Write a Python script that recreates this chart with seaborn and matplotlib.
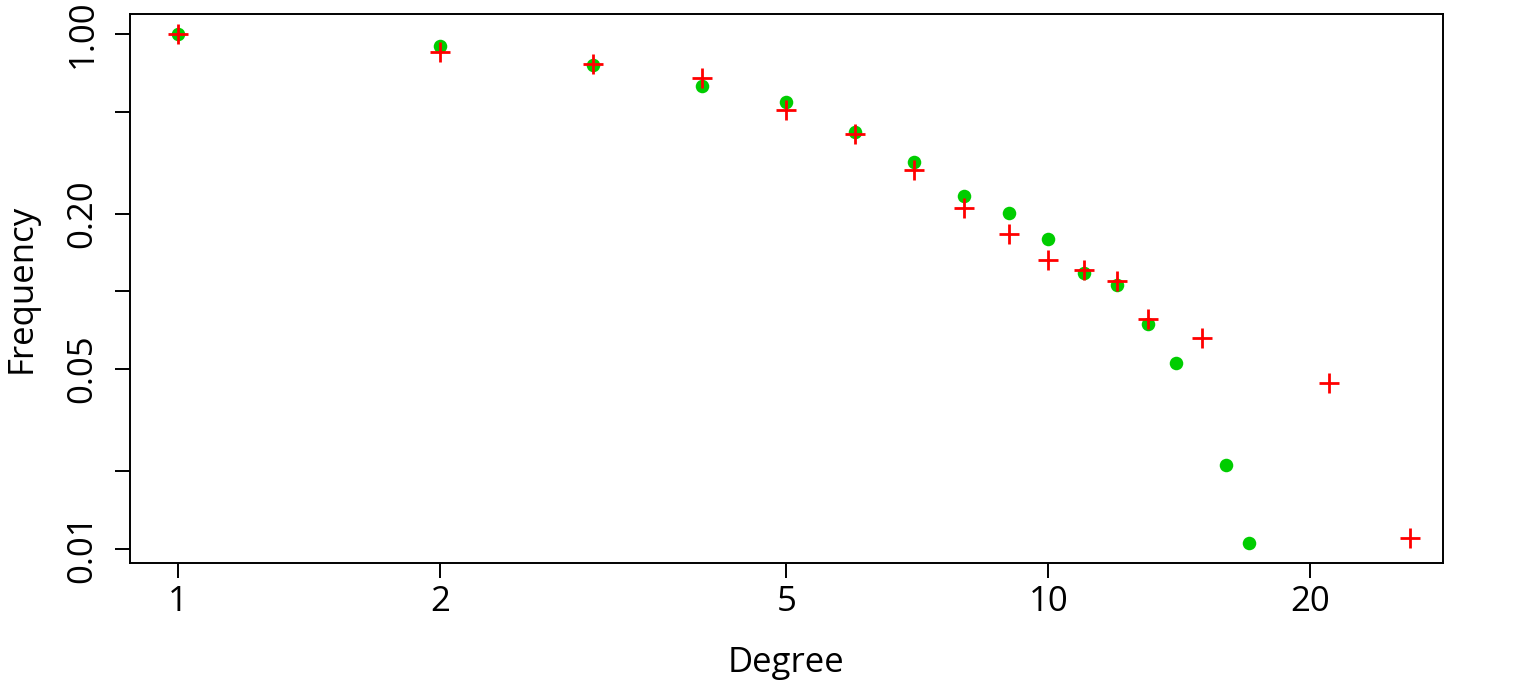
import seaborn as sns
import matplotlib
matplotlib.use("Agg")
import matplotlib.pyplot as plt
import pandas as pd

# observed degree distribution (green dots)
obs_degree = [1, 2, 3, 4, 5, 6, 7, 8, 9, 10, 11, 12, 13, 14, 16, 17]
obs_freq = [1.0, 0.898, 0.758, 0.628, 0.544, 0.416, 0.318, 0.235, 0.202,
            0.160, 0.118, 0.106, 0.0748, 0.0528, 0.0212, 0.01055]

# model degree distribution (red crosses)
model_degree = [1, 2, 3, 4, 5, 6, 7, 8, 9, 10, 11, 12, 13, 15, 21, 26]
model_freq = [1.0, 0.851, 0.765, 0.675, 0.507, 0.409, 0.296, 0.211, 0.167,
              0.1325, 0.121, 0.110, 0.0782, 0.0660, 0.0441, 0.01103]

x_ticks = [1, 2, 5, 10, 20]
y_ticks = [1.0, 0.5, 0.2, 0.1, 0.05, 0.02, 0.01]
y_tick_labels = ["1.00", "", "0.20", "", "0.05", "", "0.01"]

sns.set_style("ticks")
plt.rcParams["font.family"] = ["Open Sans", "DejaVu Sans"]
plt.rcParams["text.color"] = "black"
plt.rcParams["axes.labelcolor"] = "black"
plt.rcParams["xtick.color"] = "black"
plt.rcParams["ytick.color"] = "black"

df_obs = pd.DataFrame({"degree": obs_degree, "freq": obs_freq})
df_model = pd.DataFrame({"degree": model_degree, "freq": model_freq})

fig = plt.figure(figsize=(15.32, 6.87), dpi=100)
ax = fig.add_axes([130 / 1532, 1 - 563 / 687, (1443 - 130) / 1532, (563 - 14) / 687])

sns.scatterplot(data=df_obs, x="degree", y="freq", ax=ax, color="#00CD00",
                marker="o", s=95, linewidth=0, zorder=3)
sns.scatterplot(data=df_model, x="degree", y="freq", ax=ax, color="#FF0000",
                marker="+", s=210, linewidth=2, zorder=4)

ax.set_xscale("log")
ax.set_yscale("log")
ax.set_xlim(0.881, 28.4)
ax.set_ylim(0.00882, 1.196)

ax.set_xticks(x_ticks)
ax.set_xticklabels([str(t) for t in x_ticks])
ax.set_yticks(y_ticks)
ax.set_yticklabels(y_tick_labels, rotation=90, va="center")
ax.minorticks_off()

ax.tick_params(axis="both", length=11, width=1.4, color="black",
               labelcolor="black", labelsize=25, direction="out")
ax.tick_params(axis="x", pad=5)
ax.tick_params(axis="y", pad=11)
for sp in ax.spines.values():
    sp.set_linewidth(1.4)
    sp.set_color("black")
    sp.set_visible(True)

ax.set_xlabel("Degree", fontsize=25)
ax.set_ylabel("Frequency", fontsize=25)
ax.xaxis.set_label_coords((786 - 130) / 1313, -(663 - 563) / 549)
ax.yaxis.set_label_coords(-(130 - 22) / 1313, 0.5)
ax.xaxis.label.set_va("center")
ax.yaxis.label.set_va("center")

fig.savefig("out.png", dpi=100)
